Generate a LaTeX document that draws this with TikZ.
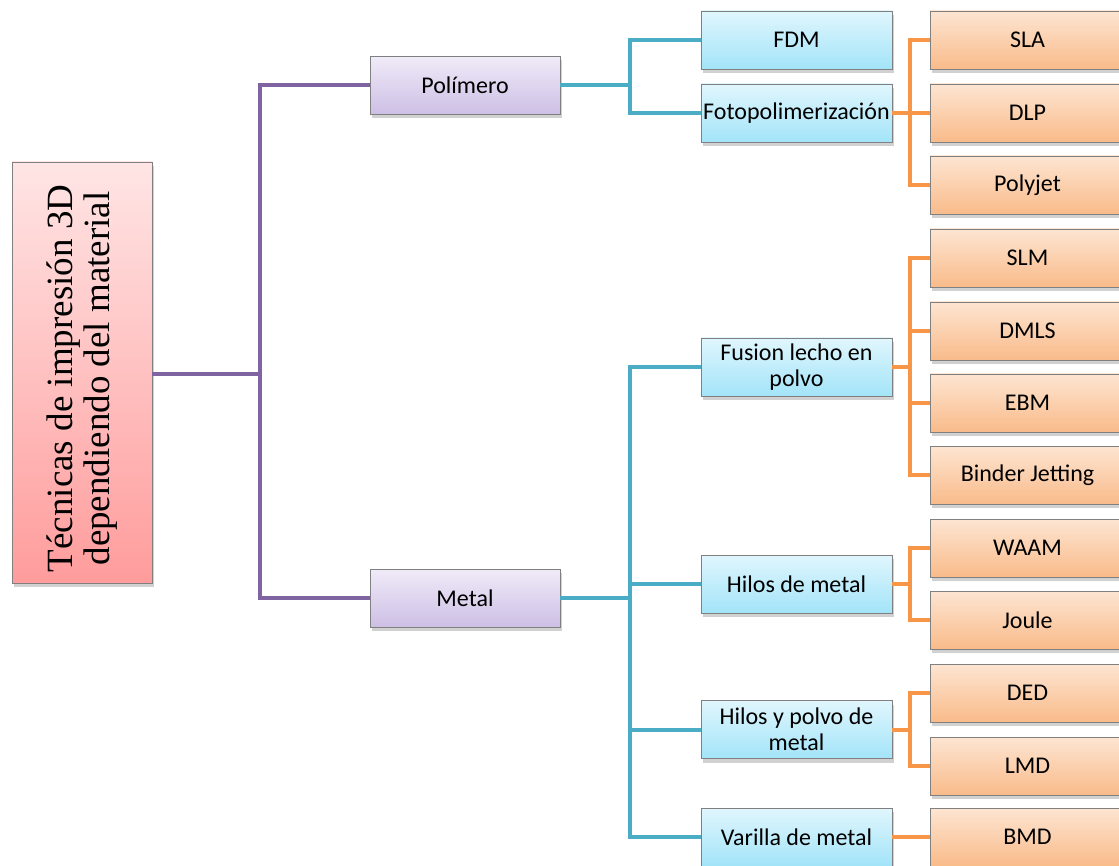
\documentclass[tikz,border=0pt]{standalone}
\usepackage{fontspec}
\setmainfont{Carlito}
\newfontfamily\rootfont{Liberation Serif}
\usetikzlibrary{shadows,calc}
\definecolor{purpl}{HTML}{8064A2}
\definecolor{bluel}{HTML}{4BACC6}
\definecolor{orngl}{HTML}{F79646}
\definecolor{purtop}{HTML}{F0EBF8}
\definecolor{purbot}{HTML}{CDBFE5}
\definecolor{blutop}{HTML}{E0F6FD}
\definecolor{blubot}{HTML}{A3E4F9}
\definecolor{orgtop}{HTML}{FDE5D2}
\definecolor{orgbot}{HTML}{F9BB8A}
\definecolor{redtop}{HTML}{FFE5E5}
\definecolor{redbot}{HTML}{FF9C9C}
\tikzset{
  x=1pt, y=-1pt,
  boxbase/.style={rectangle, draw=black!50, line width=0.8pt, inner sep=2pt,
    font=\fontsize{24}{26}\selectfont, align=center,
    drop shadow={shadow xshift=2pt, shadow yshift=-4pt, opacity=0.3, fill=black!60}},
  purpbox/.style={boxbase, minimum width=190pt, minimum height=58pt,
    top color=purtop, bottom color=purbot},
  bluebox/.style={boxbase, minimum width=191pt, minimum height=58pt,
    top color=blutop, bottom color=blubot},
  orngbox/.style={boxbase, minimum width=195pt, minimum height=58pt,
    top color=orgtop, bottom color=orgbot},
  purpline/.style={draw=purpl, line width=4pt},
  blueline/.style={draw=bluel, line width=4pt},
  orngline/.style={draw=orngl, line width=4pt},
}
\begin{document}
\begin{tikzpicture}
\useasboundingbox (0,0) rectangle (1119,866);
% root
\node[boxbase, minimum width=140pt, minimum height=421pt, top color=redtop, bottom color=redbot] (root) at (82,372.5) {};
\node[rotate=90, font=\rootfont\fontsize{37}{37}\selectfont, align=center] (roottxt) at ($(root.center)+(0,6)$) {Técnicas de impresión 3D\\dependiendo del material};
% level 1
\node[purpbox] (pol) at (465,85.5) {Polímero};
\node[purpbox] (met) at (465,598) {Metal};
% level 2
\node[bluebox] (fdm) at (796.5,40) {FDM};
\node[bluebox] (foto) at (796.5,113) {Fotopolimerización};
\node[bluebox] (fus) at (796.5,367) {Fusion lecho en\\polvo};
\node[bluebox] (hil) at (796.5,584) {Hilos de metal};
\node[bluebox] (hyp) at (796.5,729.5) {Hilos y polvo de\\metal};
\node[bluebox] (var) at (796.5,837) {Varilla de metal};
% level 3
\node[orngbox] (sla) at (1027.5,40) {SLA};
\node[orngbox] (dlp) at (1027.5,113) {DLP};
\node[orngbox] (pjt) at (1027.5,185) {Polyjet};
\node[orngbox] (slm) at (1027.5,258) {SLM};
\node[orngbox] (dmls) at (1027.5,331) {DMLS};
\node[orngbox] (ebm) at (1027.5,403) {EBM};
\node[orngbox] (bjt) at (1027.5,475) {Binder Jetting};
\node[orngbox] (waam) at (1027.5,548) {WAAM};
\node[orngbox] (joul) at (1027.5,620) {Joule};
\node[orngbox] (ded) at (1027.5,693) {DED};
\node[orngbox] (lmd) at (1027.5,766) {LMD};
\node[orngbox] (bmd) at (1027.5,837) {BMD};
% trunk x positions
\coordinate (tP) at (260,0);
\coordinate (tB) at (630,0);
\coordinate (tO) at (910,0);
\coordinate (rootc) at (82,374);
% purple
\draw[purpline] (root.east |- rootc) -- (rootc -| tP);
\draw[purpline] (pol.west) -- (pol.west -| tP) -- (met.west -| tP) -- (met.west);
% blue
\draw[blueline] (pol.east) -- (pol.east -| tB);
\draw[blueline] (fdm.west) -- (fdm.west -| tB) -- (foto.west -| tB) -- (foto.west);
\draw[blueline] (met.east) -- (met.east -| tB);
\draw[blueline] (fus.west) -- (fus.west -| tB) -- (var.west -| tB) -- (var.west);
\draw[blueline] (hil.west) -- (hil.west -| tB);
\draw[blueline] (hyp.west) -- (hyp.west -| tB);
% orange
\draw[orngline] (foto.east) -- (foto.east -| tO);
\draw[orngline] (sla.west) -- (sla.west -| tO) -- (pjt.west -| tO) -- (pjt.west);
\draw[orngline] (dlp.west) -- (dlp.west -| tO);
\draw[orngline] (fus.east) -- (fus.east -| tO);
\draw[orngline] (slm.west) -- (slm.west -| tO) -- (bjt.west -| tO) -- (bjt.west);
\draw[orngline] (dmls.west) -- (dmls.west -| tO);
\draw[orngline] (ebm.west) -- (ebm.west -| tO);
\draw[orngline] (hil.east) -- (hil.east -| tO);
\draw[orngline] (waam.west) -- (waam.west -| tO) -- (joul.west -| tO) -- (joul.west);
\draw[orngline] (hyp.east) -- (hyp.east -| tO);
\draw[orngline] (ded.west) -- (ded.west -| tO) -- (lmd.west -| tO) -- (lmd.west);
\draw[orngline] (var.east) -- (bmd.west);
\end{tikzpicture}
\end{document}
